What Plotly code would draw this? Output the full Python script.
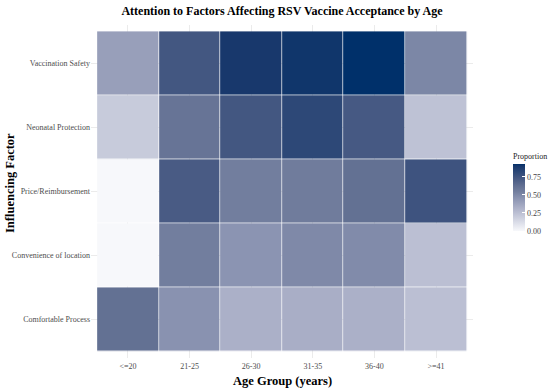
import plotly.graph_objects as go

age_groups = ["<=20", "21-25", "26-30", "31-35", "36-40", ">=41"]
factors = ["Comfortable Process", "Convenience of location", "Price/Reimbursement",
           "Neonatal Protection", "Vaccination Safety"]

comfortable = [0.62, 0.46, 0.32, 0.33, 0.32, 0.25]
convenience = [0.00, 0.55, 0.45, 0.50, 0.49, 0.25]
price = [0.00, 0.72, 0.55, 0.56, 0.62, 0.76]
neonatal = [0.20, 0.60, 0.74, 0.82, 0.73, 0.24]
safety = [0.40, 0.74, 0.90, 0.91, 0.93, 0.51]

z = [comfortable, convenience, price, neonatal, safety]

# gradient from near-white to navy (gray-blue midtones)
colorscale = [
    [0.00, "#F7F8FB"],
    [0.27, "#BBBFD3"],
    [0.35, "#AAAFC7"],
    [0.49, "#8A93B1"],
    [0.59, "#727E9E"],
    [0.67, "#627093"],
    [0.79, "#455882"],
    [0.88, "#2D4877"],
    [0.97, "#17386C"],
    [1.00, "#00306A"],
]

serif = "Liberation Serif, Times New Roman, serif"

W, H = 550, 391
L_, R_, T_, B_ = 91, 473, 25, 358  # plot area in pixels
pw, ph = R_ - L_, B_ - T_

fig = go.Figure(
    go.Heatmap(
        x=age_groups,
        y=factors,
        z=z,
        zmin=0,
        zmax=max(max(r) for r in z),
        colorscale=colorscale,
        xgap=0.7,
        ygap=0.7,
        colorbar=dict(
            tickvals=[0, 0.25, 0.5, 0.75],
            ticktext=["0.00", "0.25", "0.50", "0.75"],
            tickfont=dict(family=serif, size=8, color="#444444"),
            ticks="inside",
            tickcolor="white",
            ticklen=3,
            thickness=12,
            lenmode="pixels",
            len=67,
            x=(513 - L_) / pw,
            xanchor="left",
            y=(B_ - 197.5) / ph,
            yanchor="middle",
            xpad=0,
            ypad=0,
            outlinewidth=0,
        ),
        hovertemplate="%{x}<br>%{y}<br>%{z}<extra></extra>",
    )
)

fig.update_layout(
    template="none",
    width=W,
    height=H,
    margin=dict(l=L_, r=W - R_, t=T_, b=H - B_, autoexpand=False),
    paper_bgcolor="white",
    plot_bgcolor="white",
    title=dict(
        text="<b>Attention to Factors Affecting RSV Vaccine Acceptance by Age</b>",
        x=(L_ + R_) / 2 / W,
        xanchor="center",
        y=1 - 11 / H,
        yanchor="middle",
        font=dict(family=serif, size=12, color="black"),
    ),
    font=dict(family=serif, color="#222222"),
    annotations=[
        dict(
            text="<b>Age Group (years)</b>",
            xref="paper", yref="paper",
            x=0.5, y=-(381 - B_) / ph,
            xanchor="center", yanchor="middle",
            showarrow=False,
            font=dict(family=serif, size=12.5, color="black"),
        ),
        dict(
            text="<b>Influencing Factor</b>",
            xref="paper", yref="paper",
            x=(10 - L_) / pw, y=(B_ - 183) / ph,
            xanchor="center", yanchor="middle",
            textangle=-90,
            showarrow=False,
            font=dict(family=serif, size=12.5, color="black"),
        ),
        dict(
            text="Proportion",
            xref="paper", yref="paper",
            x=(511 - L_) / pw, y=(B_ - 156) / ph,
            xanchor="left", yanchor="middle",
            showarrow=False,
            font=dict(family=serif, size=8, color="#222222"),
        ),
    ],
)

fig.update_xaxes(
    type="category",
    categoryorder="array",
    categoryarray=age_groups,
    range=[-0.6, 5.6],
    showgrid=True,
    gridcolor="#EBEBEB",
    gridwidth=0.6,
    zeroline=False,
    showline=False,
    ticks="",
    automargin=False,
    ticklabelstandoff=2,
    tickfont=dict(family=serif, size=8, color="#4D4D4D"),
)
fig.update_yaxes(
    type="category",
    categoryorder="array",
    categoryarray=factors,
    range=[-0.6, 4.6],
    showgrid=True,
    gridcolor="#EBEBEB",
    gridwidth=0.6,
    zeroline=False,
    showline=False,
    ticks="",
    automargin=False,
    tickfont=dict(family=serif, size=8, color="#4D4D4D"),
)

fig.write_html("out.html", config={"displayModeBar": False},
               post_script="document.body.style.margin='0';")
